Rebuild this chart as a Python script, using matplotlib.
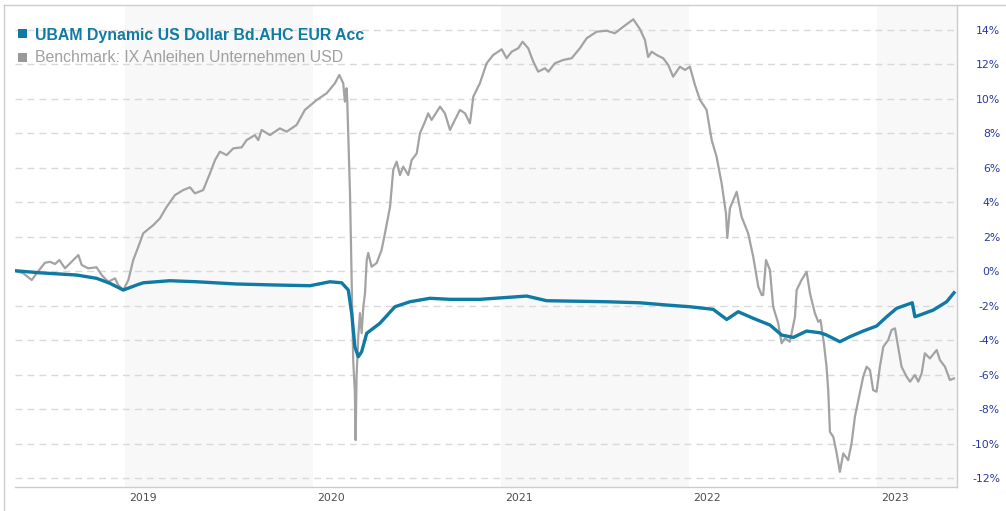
import matplotlib
matplotlib.use('Agg')
import matplotlib.pyplot as plt
import matplotlib.transforms as mtransforms
from matplotlib.patches import Rectangle

# benchmark (gray), decimal year / percent
bench_t = [2018.415, 2018.459, 2018.504, 2018.530, 2018.574, 2018.601, 2018.628, 2018.651, 2018.681, 2018.716,
           2018.752, 2018.770, 2018.805, 2018.849, 2018.876, 2018.911, 2018.947, 2018.964, 2018.991, 2019.018,
           2019.044, 2019.071, 2019.097, 2019.151, 2019.186, 2019.222, 2019.266, 2019.310, 2019.346, 2019.372,
           2019.416, 2019.452, 2019.479, 2019.505, 2019.541, 2019.576, 2019.621, 2019.647, 2019.691, 2019.709,
           2019.727, 2019.771, 2019.824, 2019.860, 2019.913, 2019.957, 2020.020, 2020.073, 2020.117, 2020.140,
           2020.161, 2020.170, 2020.179, 2020.182, 2020.197, 2020.214, 2020.223, 2020.227, 2020.232, 2020.241,
           2020.250, 2020.259, 2020.268, 2020.277, 2020.286, 2020.294, 2020.312, 2020.339, 2020.365, 2020.383,
           2020.410, 2020.427, 2020.445, 2020.463, 2020.480, 2020.507, 2020.525, 2020.552, 2020.569, 2020.596,
           2020.613, 2020.631, 2020.676, 2020.702, 2020.729, 2020.755, 2020.782, 2020.809, 2020.835, 2020.853,
           2020.888, 2020.924, 2020.959, 2021.004, 2021.030, 2021.057, 2021.092, 2021.115, 2021.145, 2021.172,
           2021.198, 2021.234, 2021.252, 2021.287, 2021.331, 2021.376, 2021.420, 2021.456, 2021.509, 2021.562,
           2021.606, 2021.651, 2021.704, 2021.739, 2021.766, 2021.783, 2021.802, 2021.828, 2021.863, 2021.890,
           2021.916, 2021.952, 2021.979, 2022.005, 2022.032, 2022.059, 2022.094, 2022.121, 2022.147, 2022.174,
           2022.197, 2022.204, 2022.218, 2022.254, 2022.280, 2022.315, 2022.342, 2022.369, 2022.387, 2022.395,
           2022.410, 2022.431, 2022.448, 2022.475, 2022.493, 2022.511, 2022.537, 2022.564, 2022.573, 2022.599,
           2022.626, 2022.644, 2022.670, 2022.688, 2022.700, 2022.718, 2022.732, 2022.741, 2022.750, 2022.768,
           2022.786, 2022.803, 2022.821, 2022.847, 2022.865, 2022.883, 2022.901, 2022.927, 2022.945, 2022.963,
           2022.980, 2022.998, 2023.016, 2023.034, 2023.060, 2023.078, 2023.096, 2023.113, 2023.131, 2023.158,
           2023.176, 2023.202, 2023.220, 2023.238, 2023.255, 2023.282, 2023.318, 2023.335, 2023.362, 2023.388,
           2023.410]
bench_v = [0.03, -0.12, -0.51, -0.12, 0.49, 0.55, 0.42, 0.65, 0.17, 0.55,
           0.94, 0.36, 0.17, 0.23, -0.22, -0.61, -0.41, -0.80, -1.09, -0.51,
           0.65, 1.42, 2.20, 2.68, 3.07, 3.74, 4.42, 4.71, 4.87, 4.52,
           4.71, 5.68, 6.45, 6.94, 6.74, 7.13, 7.19, 7.61, 7.90, 7.61,
           8.20, 7.90, 8.29, 8.10, 8.49, 9.36, 9.94, 10.33, 10.91, 11.39,
           10.91, 9.84, 10.62, 10.04, 4.54, -5.15, -7.07, -9.80, -6.12, -3.80,
           -2.43, -3.59, -2.06, -1.27, 0.65, 1.06, 0.26, 0.48, 1.23, 2.20,
           3.74, 5.87, 6.36, 5.58, 6.07, 5.58, 6.45, 6.84, 8.00, 8.68,
           9.16, 8.78, 9.55, 9.16, 8.20, 8.78, 9.36, 9.16, 8.58, 10.13,
           10.91, 12.07, 12.55, 12.88, 12.36, 12.74, 12.94, 13.32, 12.94, 12.16,
           11.58, 11.78, 11.58, 12.07, 12.26, 12.36, 12.94, 13.52, 13.90, 13.96,
           13.81, 14.19, 14.62, 14.06, 13.42, 12.43, 12.74, 12.55, 12.36, 11.97,
           11.29, 11.87, 11.68, 11.87, 10.81, 9.94, 9.36, 7.61, 6.65, 5.10,
           3.36, 1.93, 3.65, 4.61, 3.16, 2.20, 0.84, -0.90, -1.38, -1.38,
           0.65, 0.07, -2.06, -3.02, -4.18, -3.89, -4.09, -2.64, -1.09, -0.51,
           -0.03, -1.28, -2.44, -2.93, -2.83, -4.18, -5.54, -6.90, -9.32, -9.61,
           -10.57, -11.64, -10.57, -10.96, -9.99, -8.44, -7.48, -6.12, -5.54, -5.73,
           -6.90, -6.99, -5.54, -4.38, -3.99, -3.41, -3.31, -4.38, -5.54, -6.12,
           -6.41, -6.02, -6.41, -5.93, -4.76, -5.06, -4.57, -5.15, -5.54, -6.31,
           -6.22]

# fund (blue)
fund_t = [2018.415, 2018.548, 2018.743, 2018.849, 2018.920, 2018.991, 2019.062, 2019.097, 2019.239, 2019.381,
          2019.594, 2019.807, 2019.984, 2020.090, 2020.153, 2020.188, 2020.206, 2020.223, 2020.241, 2020.259,
          2020.286, 2020.356, 2020.436, 2020.516, 2020.622, 2020.729, 2020.888, 2021.137, 2021.243, 2021.562,
          2021.739, 2021.881, 2022.005, 2022.129, 2022.201, 2022.262, 2022.342, 2022.431, 2022.493, 2022.555,
          2022.626, 2022.697, 2022.732, 2022.803, 2022.856, 2022.927, 2022.998, 2023.052, 2023.105, 2023.188,
          2023.202, 2023.229, 2023.300, 2023.371, 2023.410]
fund_v = [0.03, -0.09, -0.22, -0.41, -0.70, -1.09, -0.80, -0.67, -0.55, -0.61,
          -0.74, -0.80, -0.84, -0.61, -0.67, -1.09, -2.44, -4.38, -4.96, -4.67,
          -3.60, -3.02, -2.06, -1.77, -1.57, -1.63, -1.63, -1.44, -1.71, -1.77,
          -1.83, -1.96, -2.06, -2.21, -2.80, -2.35, -2.73, -3.12, -3.70, -3.84,
          -3.47, -3.57, -3.70, -4.09, -3.80, -3.47, -3.18, -2.64, -2.15, -1.83,
          -2.64, -2.54, -2.25, -1.77, -1.25]

years = [2019, 2020, 2021, 2022, 2023]
band_years = [2019, 2021, 2023]
yticks = list(range(-12, 15, 2))
fund_name = 'UBAM Dynamic US Dollar Bd.AHC EUR Acc'
bench_name = 'Benchmark: IX Anleihen Unternehmen USD'

blue = '#0f7aa3'
gray = '#a3a3a3'
W, H = 1006, 511

fig = plt.figure(figsize=(W / 100, H / 100), dpi=100)
ax = fig.add_axes([15 / W, (H - 487) / H, (957 - 15) / W, (487 - 5) / H])

x0, x1 = 2018.415, 2023.426
ax.set_xlim(x0, x1)
ax.set_ylim(-12.52, 15.45)

for b in band_years:
    ax.axvspan(b, min(b + 1, x1), color='#f8f8f8', lw=0, zorder=0)

for v in yticks:
    ax.axhline(v, color='#d9d9d9', lw=1.0, dashes=(5, 3.6), zorder=1)

ax.plot(bench_t, bench_v, color=gray, lw=1.6, zorder=3)
ax.plot(fund_t, fund_v, color=blue, lw=2.4, zorder=4)

for s in ['left', 'top']:
    ax.spines[s].set_visible(False)
for s in ['right', 'bottom']:
    ax.spines[s].set_color('#cccccc')
    ax.spines[s].set_linewidth(1.0)

ax.set_xticks(years)
ax.set_xticklabels([str(y) for y in years], fontsize=7.8, color='#4d4d4d', family='DejaVu Sans')
ax.tick_params(axis='x', length=0, pad=4)
off = mtransforms.ScaledTranslation(18 / 100, 0, fig.dpi_scale_trans)
for lab in ax.get_xticklabels():
    lab.set_transform(lab.get_transform() + off)

ax.yaxis.tick_right()
ax.set_yticks(yticks)
ax.set_yticklabels([f'{v}%' for v in yticks], fontsize=7.8, color='#2838a0', family='DejaVu Sans')
ax.tick_params(axis='y', length=0, pad=31)
for lab in ax.get_yticklabels():
    lab.set_horizontalalignment('right')

# outer frame
fig.add_artist(plt.Line2D([4 / W, 1], [1 - 5 / H, 1 - 5 / H], color='#cccccc', lw=1.0))
fig.add_artist(plt.Line2D([4 / W, 4 / W], [0, 1 - 5 / H], color='#cccccc', lw=1.0))

# legend
fig.add_artist(Rectangle((18 / W, 1 - 38 / H), 9 / W, 9 / H, color=blue, lw=0))
fig.add_artist(Rectangle((18 / W, 1 - 62 / H), 9 / W, 9 / H, color='#999999', lw=0))
fig.text(35 / W, 1 - 35 / H, fund_name, color=blue, fontsize=11.4, fontweight='bold',
         family='Liberation Sans', va='center')
fig.text(35 / W, 1 - 58 / H, bench_name, color='#a0a0a0', fontsize=11.4,
         family='Liberation Sans', va='center')

fig.savefig('out.png', dpi=100)
